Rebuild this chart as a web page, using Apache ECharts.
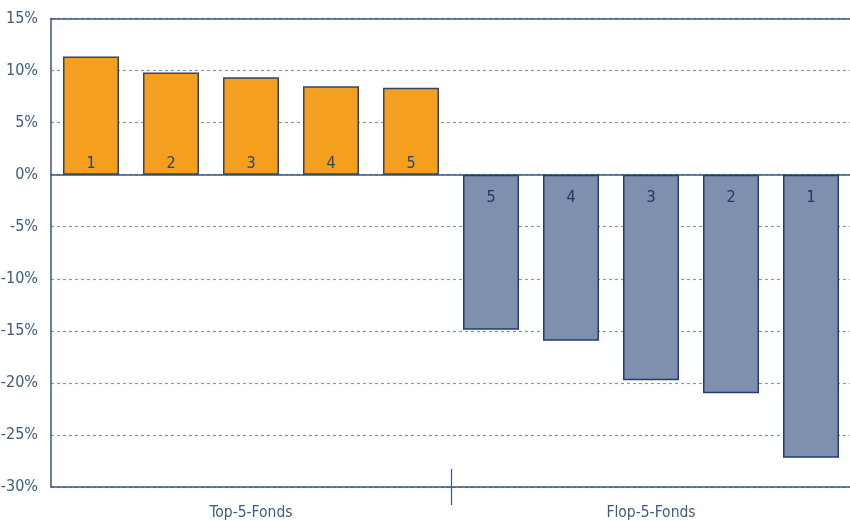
<!DOCTYPE html>
<html>
<head>
<meta charset="utf-8">
<script src="https://cdn.jsdelivr.net/npm/echarts@6/dist/echarts.min.js"></script>
<style>
html,body{margin:0;padding:0;background:#fff;}
#chart{width:850px;height:522px;}
</style>
</head>
<body>
<div id="chart"></div>
<script>
// Data
const groups = ['Top-5-Fonds', 'Flop-5-Fonds'];
const barSlots = ['T1','T2','T3','T4','T5','F5','F4','F3','F2','F1'];
const topRanks = ['1','2','3','4','5'];
const topValues = [11.35, 9.82, 9.35, 8.5, 8.35];
const flopRanks = ['5','4','3','2','1'];
const flopValues = [-14.9, -15.95, -19.75, -21.0, -27.2];
const yTicks = { min: -30, max: 15, step: 5 };
const dividerSlots = ['start', 'divider', 'end'];

const FONT = '"Liberation Sans Narrow", "DejaVu Sans Condensed", "Roboto", sans-serif';
const AXIS_COLOR = '#3a5680';
const LABEL_COLOR = '#3f5a82';

const topData = topValues.concat(flopValues.map(() => '-'));
const flopData = topValues.map(() => '-').concat(flopValues);

const chart = echarts.init(document.getElementById('chart'), null, {renderer: 'canvas'});
chart.setOption({
  animation: false,
  backgroundColor: '#ffffff',
  grid: { left: 51, right: -1, top: 18.5, bottom: 35, containLabel: false, outerBoundsMode: 'none' },
  xAxis: [
    { type: 'category', data: barSlots,
      axisLine: { show: true, onZero: true, lineStyle: { color: AXIS_COLOR, width: 1.5 } },
      axisTick: { show: false }, axisLabel: { show: false }, splitLine: { show: false } },
    { type: 'category', data: groups, position: 'bottom',
      axisLine: { show: true, onZero: false, lineStyle: { color: AXIS_COLOR, width: 1.5 } },
      axisTick: { show: false },
      axisLabel: { show: true, color: LABEL_COLOR, fontFamily: FONT, fontSize: 15.5, margin: 18 },
      splitLine: { show: false } },
    { type: 'category', data: groups, position: 'top',
      axisLine: { show: true, onZero: false, lineStyle: { color: AXIS_COLOR, width: 1.5 } },
      axisTick: { show: false }, axisLabel: { show: false }, splitLine: { show: false } },
    { type: 'category', data: dividerSlots, position: 'bottom', offset: -18, boundaryGap: false,
      axisLine: { show: false, onZero: false },
      axisTick: { show: true, length: 36, interval: function (i) { return i === 1; },
                  lineStyle: { color: AXIS_COLOR, width: 1.2 } },
      axisLabel: { show: false }, splitLine: { show: false } }
  ],
  yAxis: {
    type: 'value', min: yTicks.min, max: yTicks.max, interval: yTicks.step,
    axisLine: { show: true, lineStyle: { color: AXIS_COLOR, width: 1.5 } },
    axisTick: { show: false },
    axisLabel: { formatter: '{value}%', color: LABEL_COLOR, fontFamily: FONT, fontSize: 16, margin: 13 },
    splitLine: { show: true, lineStyle: { color: '#8593b2', type: [3, 3], width: 1.2 } }
  },
  series: [
    { type: 'bar', xAxisIndex: 0, data: topData, barGap: '-100%', barWidth: 56,
      itemStyle: { color: '#F59F1E', borderColor: '#2e4767', borderWidth: 1.5 },
      label: { show: true, position: 'insideBottom', distance: 3, color: '#2c4468',
               fontFamily: FONT, fontSize: 16,
               formatter: function (p) { return topRanks[p.dataIndex]; } },
      z: 3 },
    { type: 'bar', xAxisIndex: 0, data: flopData, barGap: '-100%', barWidth: 56,
      itemStyle: { color: '#7E8FAF', borderColor: '#1e3f6e', borderWidth: 1.5 },
      label: { show: true, position: 'insideTop', distance: 15, color: '#1f3a62',
               fontFamily: FONT, fontSize: 16,
               formatter: function (p) { return flopRanks[p.dataIndex - topValues.length]; } },
      z: 3 }
  ]
});
</script>
</body>
</html>
